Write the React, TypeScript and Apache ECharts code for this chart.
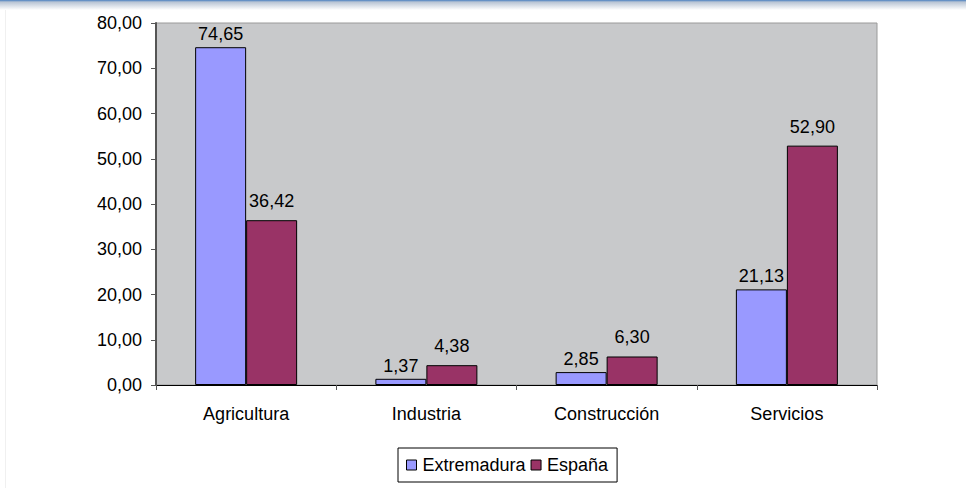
import React, { useEffect, useRef } from "react";
import * as echarts from "echarts";

const categories = ["Agricultura", "Industria", "Construcción", "Servicios"];
const extremadura = [74.65, 1.37, 2.85, 21.13];
const espana = [36.42, 4.38, 6.3, 52.9];
const seriesNames = ["Extremadura", "España"];

const fmt = (v: number) => v.toFixed(2).replace(".", ",");

export default function App() {
  const ref = useRef<HTMLDivElement>(null);
  useEffect(() => {
    const chart = echarts.init(ref.current!, null, { renderer: "svg" });
    const font = "Arial, 'Liberation Sans', sans-serif";
    const fs = 18;
    chart.setOption({
      animation: false,
      backgroundColor: "#ffffff",
      textStyle: { fontFamily: font },
      grid: {
        left: 156,
        top: 23,
        right: 89,
        bottom: 103,
        show: true,
        backgroundColor: "#C8C9CB",
        borderColor: "#9a9a9a",
        borderWidth: 1,
      },
      graphic: [
        {
          type: "rect",
          shape: { x: 0, y: 0, width: 966, height: 10 },
          style: {
            fill: new echarts.graphic.LinearGradient(0, 0, 0, 1, [
              { offset: 0, color: "#4a80c0" },
              { offset: 0.2, color: "#b8c4d4" },
              { offset: 1, color: "#ffffff" },
            ]),
          },
          silent: true,
        },
        {
          type: "rect",
          shape: { x: 5, y: 10, width: 1, height: 478 },
          style: { fill: "#f0f0f0" },
          silent: true,
        },
      ],
      legend: {
        data: seriesNames,
        bottom: 6,
        left: 398,
        icon: "rect",
        itemWidth: 10,
        itemHeight: 10,
        itemGap: 5,
        padding: [8, 9, 8, 8],
        borderColor: "#000",
        borderWidth: 1,
        backgroundColor: "#fff",
        itemStyle: { borderColor: "#000", borderWidth: 1 },
        textStyle: { fontSize: fs, color: "#000", fontFamily: font, padding: [0, 0, 0, 1] },
      },
      xAxis: {
        type: "category",
        data: categories,
        axisLine: { lineStyle: { color: "#000", width: 1 } },
        axisTick: { show: true, alignWithLabel: false, length: 5, lineStyle: { color: "#555" } },
        axisLabel: { fontSize: fs, color: "#000", margin: 20, fontFamily: font },
      },
      yAxis: {
        type: "value",
        min: 0,
        max: 80,
        interval: 10,
        axisLine: { show: true, lineStyle: { color: "#555", width: 2 } },
        axisTick: { show: true, length: 5, lineStyle: { color: "#555" } },
        splitLine: { show: false },
        axisLabel: { fontSize: fs, color: "#000", margin: 14, formatter: (v: number) => fmt(v), fontFamily: font },
      },
      series: [
        {
          name: seriesNames[0],
          type: "bar",
          data: extremadura,
          barWidth: 51,
          barGap: "0%",
          itemStyle: { color: "#9999FF", borderColor: "#000", borderWidth: 1 },
          label: {
            show: true,
            position: "top",
            distance: 4,
            fontSize: fs,
            color: "#000",
            fontFamily: font,
            formatter: (p: any) => fmt(p.value),
          },
        },
        {
          name: seriesNames[1],
          type: "bar",
          data: espana,
          barWidth: 51,
          barGap: "0%",
          itemStyle: { color: "#993366", borderColor: "#000", borderWidth: 1 },
          label: {
            show: true,
            position: "top",
            distance: 10,
            fontSize: fs,
            color: "#000",
            fontFamily: font,
            formatter: (p: any) => fmt(p.value),
          },
        },
      ],
    });
    return () => chart.dispose();
  }, []);
  return <div ref={ref} style={{ width: 966, height: 488, position: "fixed", left: 0, top: 0 }} />;
}
